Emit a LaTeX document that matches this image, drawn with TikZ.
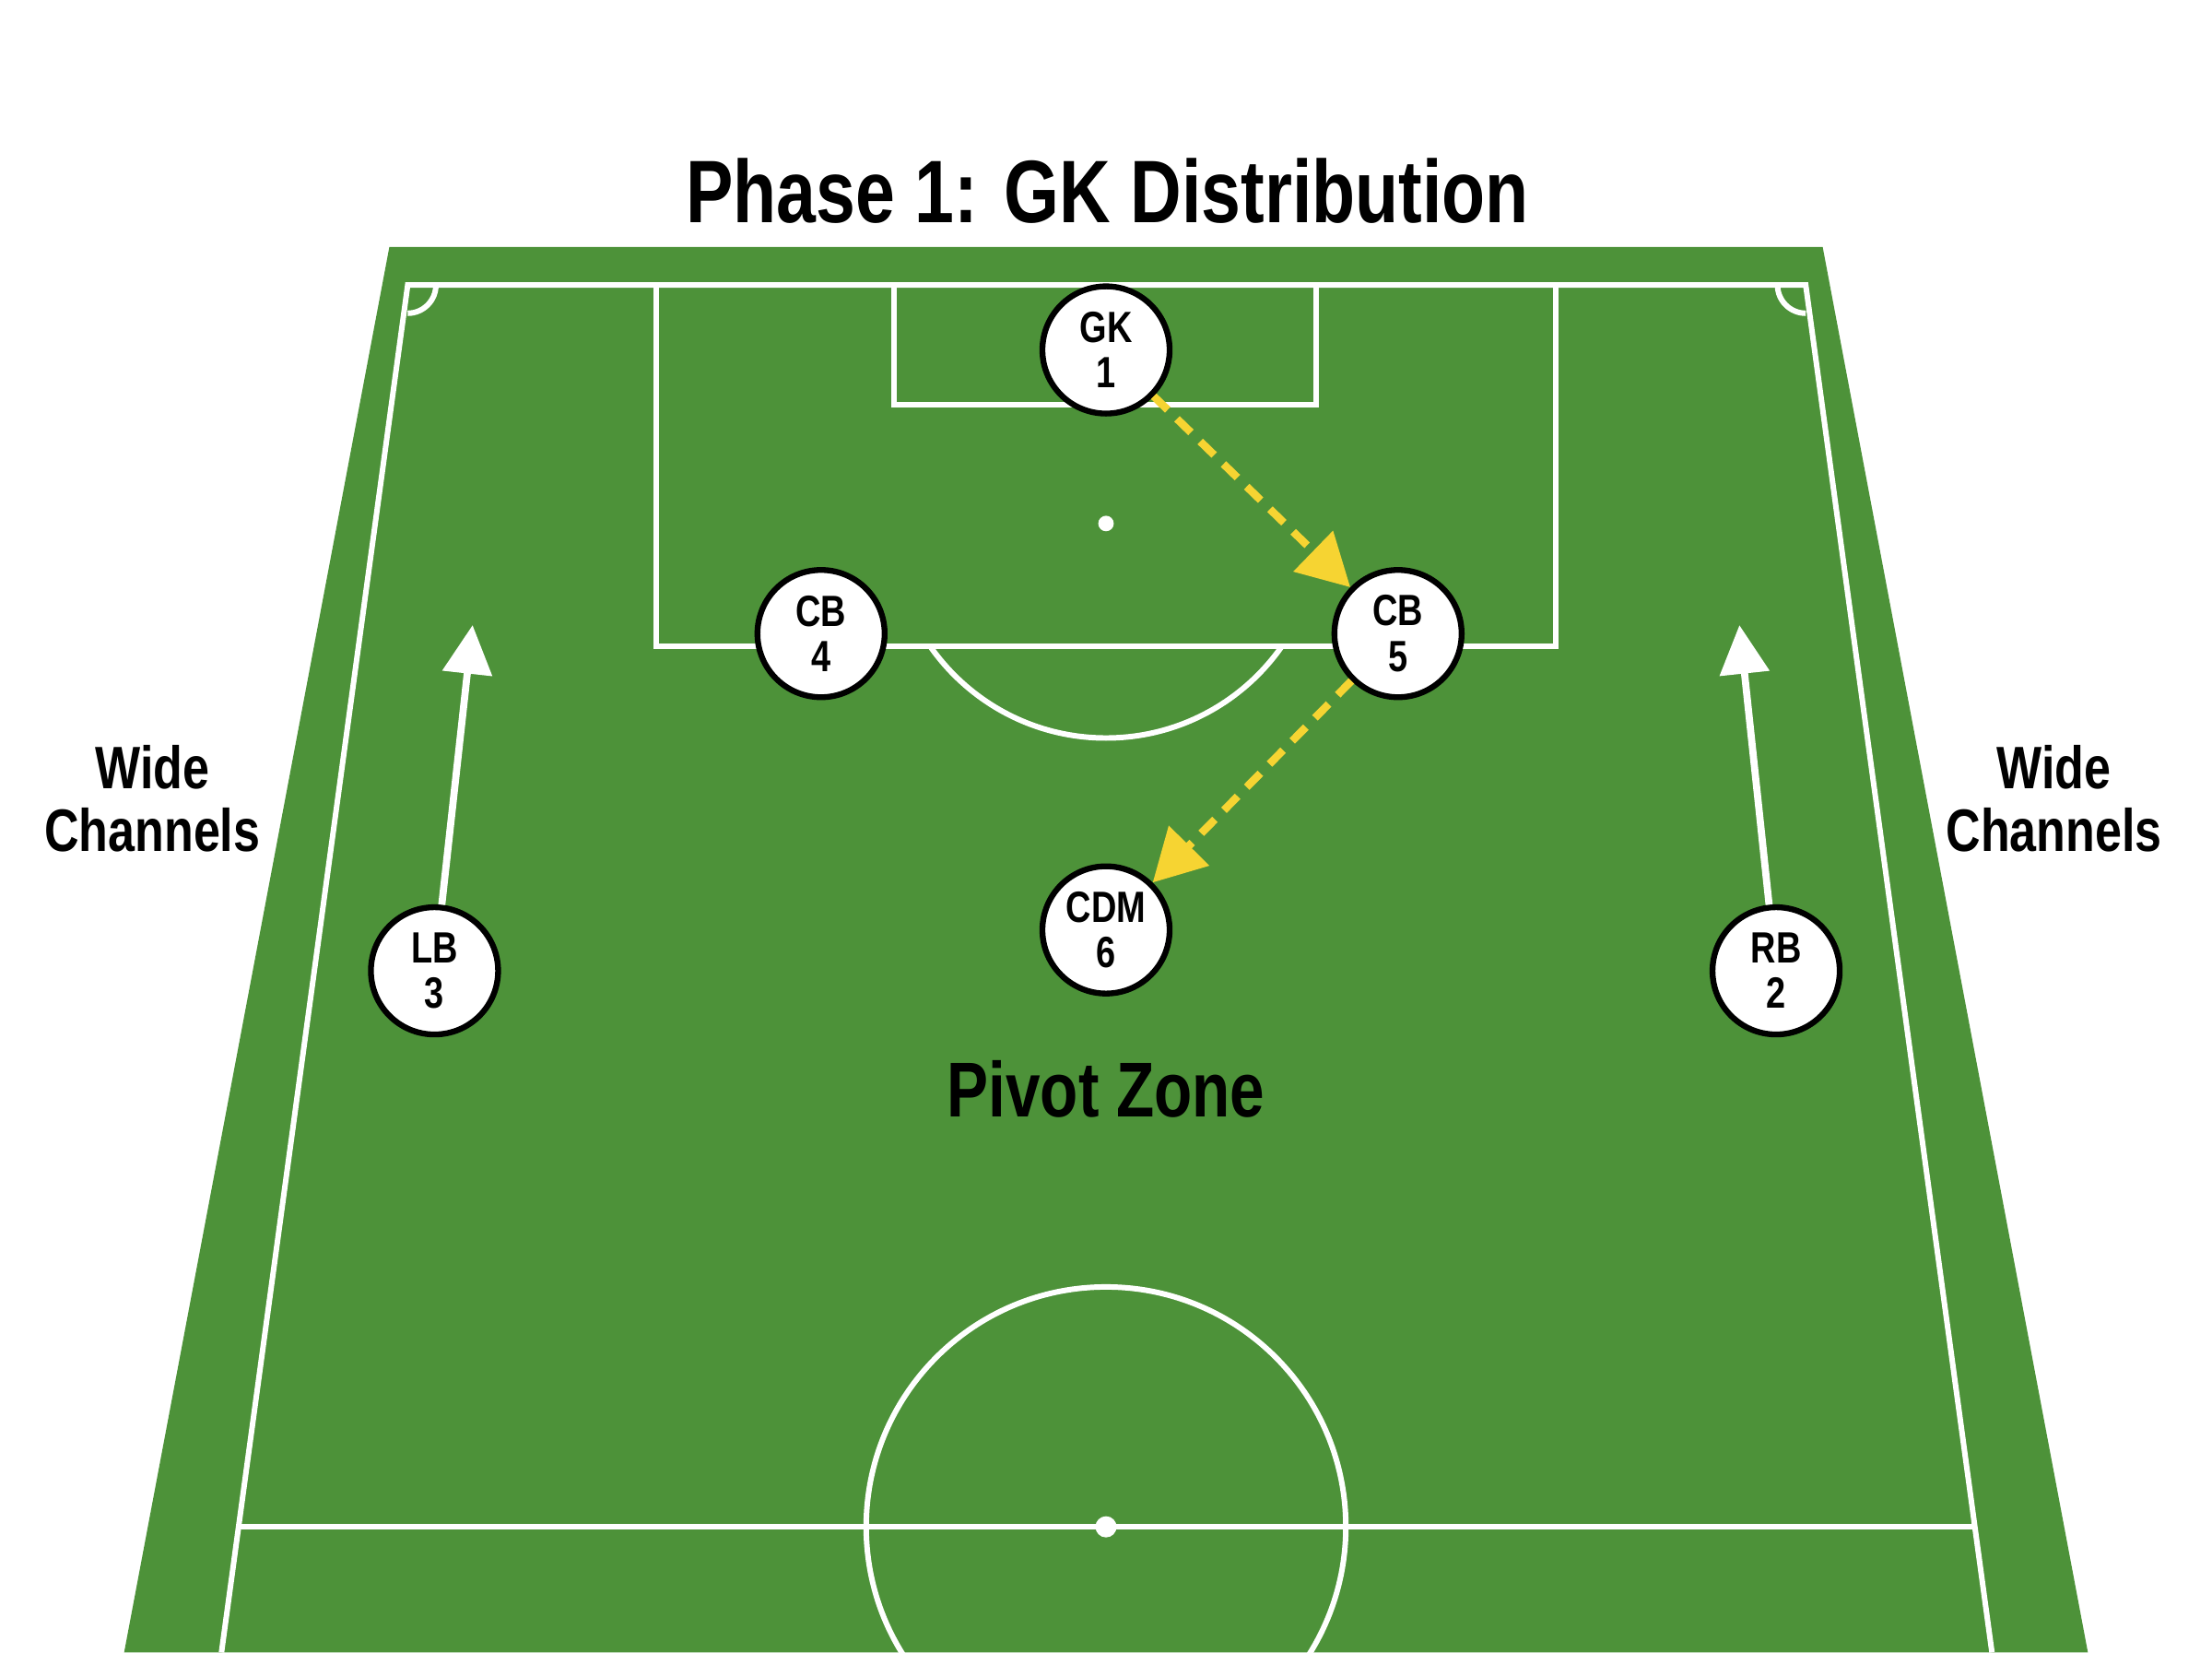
\documentclass[tikz,border=0pt]{standalone}
\usepackage{fontspec}
\setmainfont{Liberation Sans}[FakeStretch=0.8]
\usetikzlibrary{arrows.meta}
\definecolor{pitchgreen}{RGB}{77,146,57}
\definecolor{passyellow}{RGB}{246,212,50}
\tikzset{
marking/.style={draw=white, line width=1.7pt}, % white pitch lines
player/.style={circle, draw=black, line width=1.8pt, fill=white, minimum size=1.38cm, inner sep=0pt, align=center, font=\bfseries\fontsize{13.5}{14}\selectfont}, % sets the look of each player disc
passline/.style={draw=passyellow, line width=2.4pt, dash pattern=on 6pt off 4pt, -{Triangle[length=16pt, width=17pt]}}, % dashed ball path
runline/.style={draw=white, line width=2.2pt, -{Triangle[length=15pt, width=15pt]}}, % forward runs of the full backs
zonetext/.style={align=center, font=\bfseries\fontsize{18.5}{19.5}\selectfont}, % side texts
}

\begin{document}
\begin{tikzpicture}[x=0.015306cm, y=-0.015306cm]
    \useasboundingbox (0,0) rectangle (1568,1171);
    % pitch
    \fill[pitchgreen] (276,175) -- (1292,175) -- (1480,1171) -- (88,1171) -- cycle;
    \draw[marking] (157,1171) -- (289,202) -- (1280,202) -- (1412,1171);
    \draw[marking] (309,202) arc[start angle=0, end angle=90, radius=20];
    \draw[marking] (1260,202) arc[start angle=180, end angle=90, radius=20];
    \draw[marking] (465,202) -- (465,458) -- (1103,458) -- (1103,202);
    \draw[marking] (634,202) -- (634,287) -- (933,287) -- (933,202);
    \begin{scope}
        \clip (465,458) rectangle (1103,620);
        \draw[marking] (784,371) circle[radius=152];
    \end{scope}
    \draw[marking] (170,1082) -- (1399,1082);
    \draw[marking] (784,1082) circle[radius=170];
    \fill[white] (784,371) circle[radius=5.5];
    \fill[white] (784,1082) circle[radius=7.5];
    % texts
    \node[font=\bfseries\fontsize{27.4}{30}\selectfont] (title) at (785,135) {Phase 1: GK Distribution};
    \node[zonetext] (wideleft) at (108,566) {Wide\\Channels};
    \node[zonetext] (wideright) at (1456,566) {Wide\\Channels};
    \node[font=\bfseries\fontsize{24}{26}\selectfont] (pivot) at (784,772) {Pivot Zone};
    % players
    \node[player] (gk) at (784,248) {GK\\1};
    \node[player] (cb4) at (582,449) {CB\\4};
    \node[player] (cb5) at (991,449) {CB\\5};
    \node[player] (cdm) at (784,659) {CDM\\6};
    \node[player] (lb) at (308,688) {LB\\3};
    \node[player] (rb) at (1259,688) {RB\\2};
    \coordinate (lbrun) at (335,443);
    \coordinate (rbrun) at (1233,443);
    % passes and runs
    \draw (gk) edge[passline] (cb5)
    (cb5) edge[passline] (cdm)
    (lb) edge[runline] (lbrun)
    (rb) edge[runline] (rbrun);
\end{tikzpicture}
\end{document}
